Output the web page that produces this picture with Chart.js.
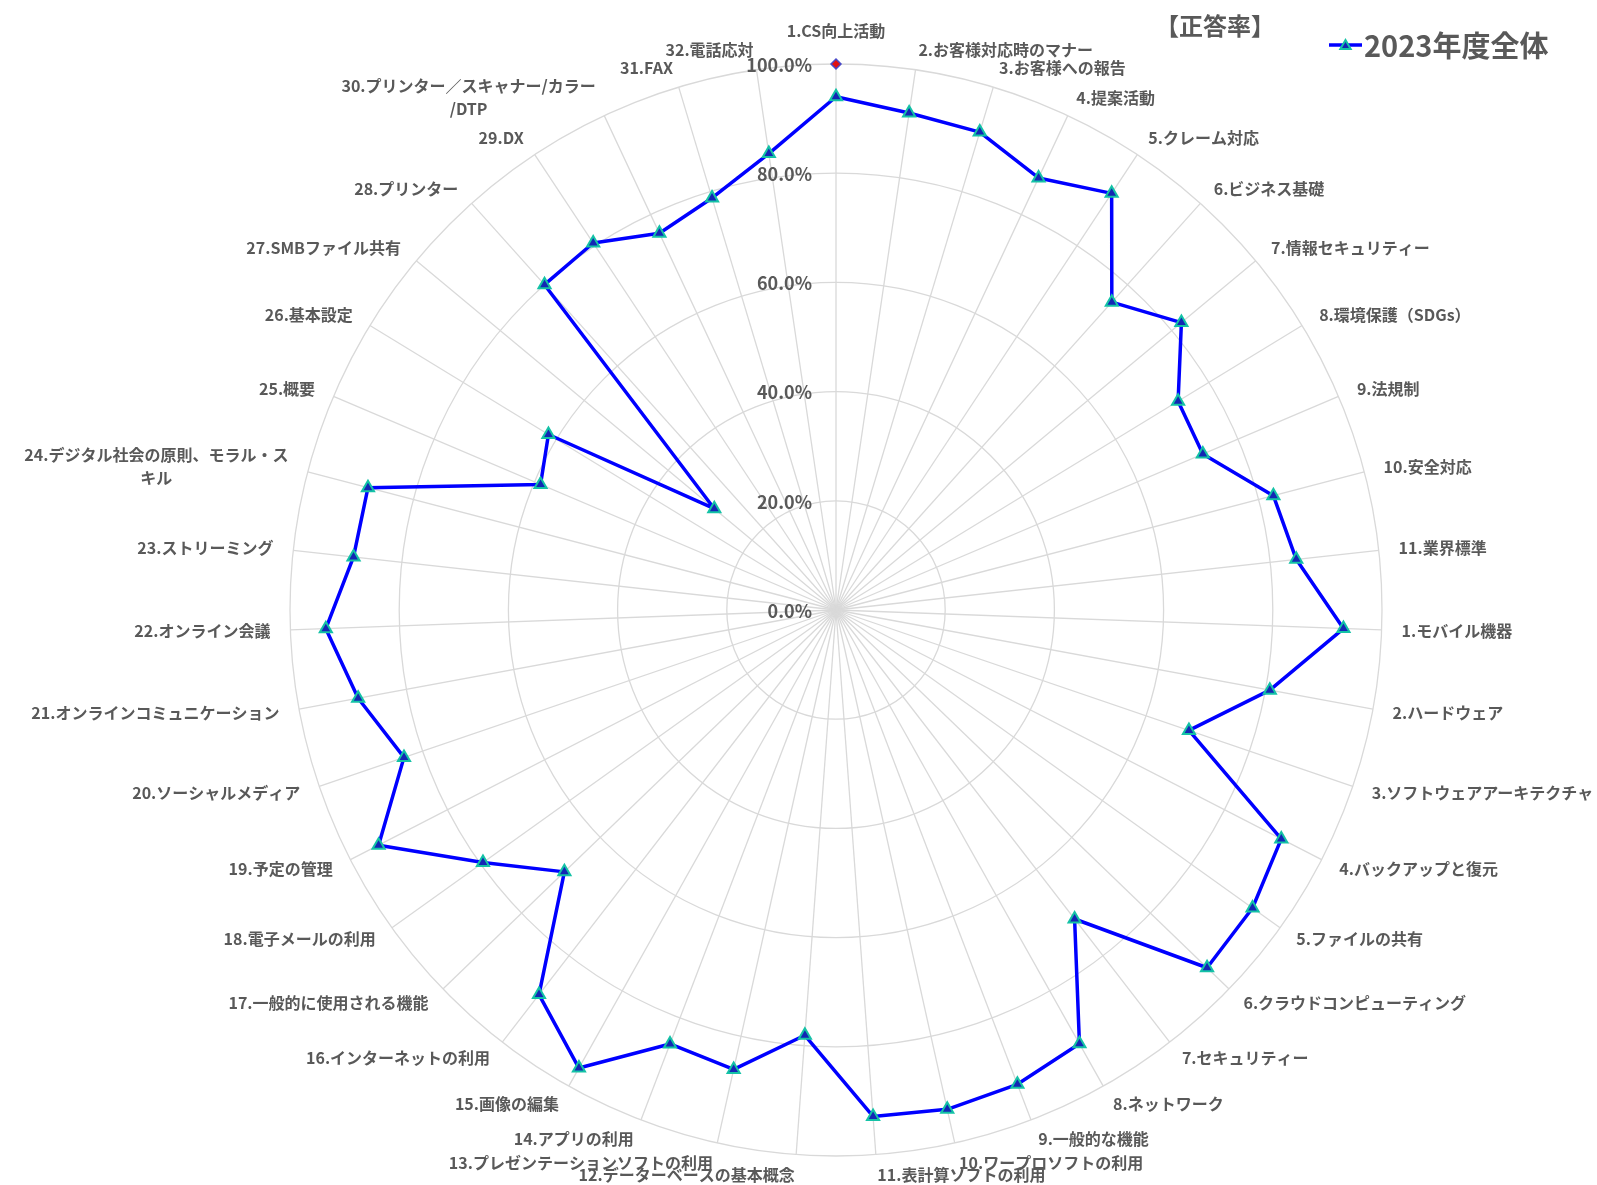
<!DOCTYPE html>
<html lang="ja">
<head>
<meta charset="utf-8">
<title>正答率 2023年度全体</title>
<script src="https://cdn.jsdelivr.net/npm/chart.js@4/dist/chart.umd.min.js"></script>
<style>
  html, body { margin: 0; padding: 0; background: #ffffff; }
  #wrap { width: 1597px; height: 1185px; position: relative; }
</style>
</head>
<body>
<div id="wrap"><canvas id="radar" width="1597" height="1185"></canvas></div>
<script>
// ---- data ----
const categories = [
  '1.CS向上活動', '2.お客様対応時のマナー', '3.お客様への報告', '4.提案活動', '5.クレーム対応',
  '6.ビジネス基礎', '7.情報セキュリティー', '8.環境保護（SDGs）', '9.法規制', '10.安全対応', '11.業界標準',
  '1.モバイル機器', '2.ハードウェア', '3.ソフトウェアアーキテクチャ', '4.バックアップと復元',
  '5.ファイルの共有', '6.クラウドコンピューティング', '7.セキュリティー', '8.ネットワーク',
  '9.一般的な機能', '10.ワープロソフトの利用', '11.表計算ソフトの利用', '12.データーベースの基本概念',
  '13.プレゼンテーションソフトの利用', '14.アプリの利用', '15.画像の編集', '16.インターネットの利用',
  '17.一般的に使用される機能', '18.電子メールの利用', '19.予定の管理', '20.ソーシャルメディア',
  '21.オンラインコミュニケーション', '22.オンライン会議', '23.ストリーミング',
  ['24.デジタル社会の原則、モラル・ス', 'キル'], '25.概要', '26.基本設定', '27.SMBファイル共有',
  '28.プリンター', '29.DX', ['30.プリンター／スキャナー/カラー', '/DTP'], '31.FAX', '32.電話応対'
];

const seriesName = '2023年度全体';
const scores2023 = [
  94.0, 92.0, 91.4, 87.4, 91.5, 75.7, 82.3, 73.4, 73.0, 82.8, 84.8,
  93.0, 80.8, 68.3, 91.7, 93.8, 94.4, 71.5, 91.1, 93.0, 93.7, 93.0,
  78.1, 86.2, 85.1, 96.2, 89.0, 69.1, 79.5, 94.2, 83.6, 89.0, 93.5,
  88.9, 88.6, 58.8, 61.7, 29.0, 80.0, 80.6, 76.2, 78.8, 84.5
];

// single reference mark at the top of the scale
const upperMarkName = '上限';
const upperMark = [100];

const tickValues = [0, 20, 40, 60, 80, 100];
const tickLabels = ['0.0%', '20.0%', '40.0%', '60.0%', '80.0%', '100.0%'];
const chartTitle = '【正答率】';

// ---- styles ----
const FONT = '"Noto Sans CJK JP", "Noto Sans", sans-serif';
const TEXT_GREY = '#595959';
const GRID_GREY = '#d9d9d9';
const LINE_BLUE = '#0000ff';
const MARK_FILL = '#1326b4';
const MARK_EDGE = '#14c2a6';

// axis ticks, category names, title and legend
const radarText = {
  id: 'radarText',
  beforeDatasetsDraw(chart) {
    const s = chart.scales.r;
    const ctx = chart.ctx;
    ctx.save();

    ctx.font = 'bold 18px ' + FONT;
    ctx.fillStyle = TEXT_GREY;
    ctx.textAlign = 'right';
    ctx.textBaseline = 'middle';
    tickValues.forEach((v, k) => {
      const d = s.getDistanceFromCenterForValue(v);
      ctx.fillText(tickLabels[k], s.xCenter - 24, s.yCenter - d + 1);
    });

    ctx.font = 'bold 16px ' + FONT;
    const n = categories.length;
    const lh = 23;
    categories.forEach((lab, i) => {
      const lines = Array.isArray(lab) ? lab : [lab];
      const deg = i * 360 / n;
      const p = s.getPointPosition(i, s.drawingArea + 20);
      const w = Math.max(...lines.map(t => ctx.measureText(t).width));
      let left;
      if (i === 0) left = p.x - w / 2;
      else if (deg < 180) left = p.x;
      else left = p.x - w;
      let top = p.y - lines.length * lh / 2;
      if (i === 0) top = p.y - lines.length * lh - 2;
      ctx.textAlign = 'center';
      ctx.textBaseline = 'middle';
      lines.forEach((t, j) => {
        ctx.fillText(t, left + w / 2, top + lh * j + lh / 2);
      });
    });
    ctx.restore();
  },
  afterDraw(chart) {
    const ctx = chart.ctx;
    ctx.save();
    ctx.fillStyle = TEXT_GREY;
    ctx.textBaseline = 'middle';

    ctx.font = 'bold 24px ' + FONT;
    ctx.textAlign = 'center';
    ctx.fillText(chartTitle, 1215, 26);

    // legend entry: line with triangle marker
    const ly = 45;
    ctx.strokeStyle = LINE_BLUE;
    ctx.lineWidth = 3.5;
    ctx.beginPath();
    ctx.moveTo(1329, ly);
    ctx.lineTo(1362, ly);
    ctx.stroke();
    ctx.fillStyle = MARK_FILL;
    ctx.strokeStyle = MARK_EDGE;
    ctx.lineWidth = 2;
    Chart.helpers.drawPoint(ctx, { pointStyle: 'triangle', radius: 6, borderWidth: 2, rotation: 0 }, 1345.5, ly + 1);

    ctx.fillStyle = TEXT_GREY;
    ctx.font = 'bold 29px ' + FONT;
    ctx.textAlign = 'left';
    ctx.fillText(seriesName, 1364, ly + 1);
    ctx.restore();
  }
};

new Chart(document.getElementById('radar'), {
  type: 'radar',
  data: {
    labels: categories,
    datasets: [
      {
        label: seriesName,
        data: scores2023,
        borderColor: LINE_BLUE,
        borderWidth: 3.5,
        backgroundColor: 'rgba(0,0,0,0)',
        fill: false,
        tension: 0,
        pointStyle: 'triangle',
        pointRadius: 7,
        pointBackgroundColor: MARK_FILL,
        pointBorderColor: MARK_EDGE,
        pointBorderWidth: 2,
        clip: false,
        order: 1
      },
      {
        label: upperMarkName,
        data: upperMark,
        showLine: false,
        pointStyle: 'rectRot',
        pointRadius: 5,
        pointBackgroundColor: '#e01010',
        pointBorderColor: '#4a4ac8',
        pointBorderWidth: 1.5,
        clip: false,
        order: 0
      }
    ]
  },
  options: {
    responsive: false,
    animation: false,
    devicePixelRatio: 1,
    layout: { padding: { top: 64, bottom: 29, left: 100, right: 25 } },
    plugins: {
      legend: { display: false },
      tooltip: { enabled: false },
      title: { display: false }
    },
    elements: { line: { borderJoinStyle: 'round' } },
    scales: {
      r: {
        min: 0,
        max: 100,
        ticks: { display: false, stepSize: 20 },
        pointLabels: { display: false },
        grid: { circular: true, color: GRID_GREY, lineWidth: 1.3 },
        angleLines: { color: GRID_GREY, lineWidth: 1.3 }
      }
    }
  },
  plugins: [radarText]
});
</script>
</body>
</html>
